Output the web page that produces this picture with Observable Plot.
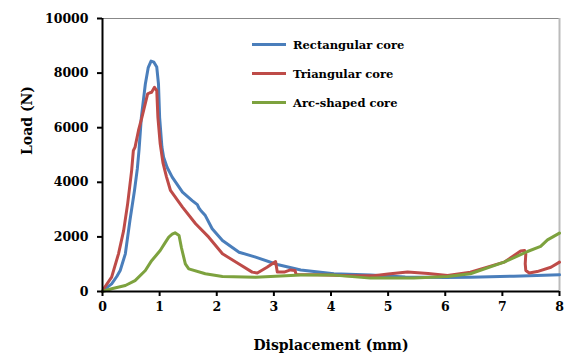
<!DOCTYPE html>
<html>
<head>
<meta charset="utf-8">
<script src="https://cdn.jsdelivr.net/npm/d3@7"></script>
<script src="https://cdn.jsdelivr.net/npm/@observablehq/plot@0.6"></script>
<style>
  html, body { margin: 0; padding: 0; background: #fff; }
  #wrap { position: relative; width: 568px; height: 356px; font-family: "DejaVu Serif", serif; font-weight: bold; }
  #legend { position: absolute; left: 252px; top: 30px; font-size: 11.5px; color: #000; }
  #legend .item { display: flex; align-items: center; height: 29px; }
  #legend .sw { width: 34px; height: 3px; margin-right: 7px; }
</style>
</head>
<body>
<div id="wrap"></div>
<script>
const seriesNames = ["Rectangular core", "Triangular core", "Arc-shaped core"];
const seriesColors = ["#4A7EBB", "#BE4B48", "#7DA23E"];

const rectX = [0, 0.08, 0.16, 0.25, 0.31, 0.40, 0.48, 0.56, 0.61, 0.64, 0.68, 0.75, 0.80, 0.85, 0.90, 0.95, 0.98, 1.00, 1.04, 1.07, 1.13, 1.22, 1.40, 1.57, 1.66, 1.69, 1.72, 1.80, 1.92, 2.10, 2.39, 2.68, 3.06, 3.47, 4.05, 4.69, 5.3, 6.0, 6.44, 7.2, 8.0];
const rectY = [0, 150, 280, 550, 770, 1380, 2600, 3700, 4500, 5200, 6380, 7600, 8200, 8440, 8400, 8220, 7600, 6380, 5290, 4920, 4550, 4190, 3640, 3330, 3180, 3050, 2970, 2780, 2300, 1870, 1440, 1260, 990, 790, 650, 600, 530, 510, 525, 560, 610];

const triX = [0, 0.02, 0.16, 0.28, 0.37, 0.44, 0.51, 0.54, 0.57, 0.63, 0.69, 0.79, 0.83, 0.86, 0.91, 0.95, 0.97, 1.01, 1.06, 1.12, 1.19, 1.40, 1.63, 1.86, 2.10, 2.39, 2.62, 2.71, 2.88, 3.03, 3.06, 3.18, 3.29, 3.37, 3.39, 3.76, 4.34, 4.75, 5.0, 5.34, 5.7, 6.04, 6.44, 7.03, 7.32, 7.39, 7.41, 7.40, 7.41, 7.47, 7.61, 7.85, 8.0];
const triY = [0, 100, 525, 1380, 2230, 3210, 4430, 5160, 5290, 5900, 6380, 7240, 7280, 7300, 7480, 7360, 6380, 5410, 4700, 4200, 3700, 3090, 2480, 1990, 1380, 1010, 710, 680, 890, 1100, 710, 710, 790, 770, 620, 610, 575, 580, 640, 710, 660, 590, 710, 1075, 1480, 1500, 1380, 1010, 770, 680, 730, 890, 1075];

const arcX = [0, 0.16, 0.40, 0.57, 0.75, 0.86, 0.93, 1.01, 1.10, 1.16, 1.22, 1.27, 1.34, 1.38, 1.45, 1.51, 1.80, 2.10, 2.68, 3.47, 4.05, 4.69, 5.45, 6.04, 6.44, 7.03, 7.44, 7.67, 7.79, 8.0];
const arcY = [0, 100, 220, 400, 770, 1130, 1300, 1500, 1800, 1990, 2100, 2150, 2050, 1620, 1010, 830, 650, 550, 525, 600, 600, 490, 490, 550, 650, 1075, 1465, 1650, 1890, 2140];

const xTicks = [0, 1, 2, 3, 4, 5, 6, 7, 8];
const yTicks = [0, 2000, 4000, 6000, 8000, 10000];
const xTitle = ["Displacement (mm)"];
const yTitle = ["Load (N)"];

const toRows = (xs, ys, name) => xs.map((x, i) => ({x, y: ys[i], series: name}));
const rows = [
  ...toRows(rectX, rectY, seriesNames[0]),
  ...toRows(triX, triY, seriesNames[1]),
  ...toRows(arcX, arcY, seriesNames[2])
];

const chart = Plot.plot({
  width: 568,
  height: 356,
  marginLeft: 102,
  marginRight: 9,
  marginTop: 18,
  marginBottom: 65,
  style: {fontFamily: "DejaVu Serif", fontWeight: "bold", fontSize: "12.5px", color: "#000", background: "#fff"},
  x: {domain: [0, 8]},
  y: {domain: [0, 10000]},
  color: {domain: seriesNames, range: seriesColors},
  marks: [
    Plot.ruleY([10000], {stroke: "#888", strokeWidth: 1}),
    Plot.ruleX([8], {stroke: "#bbb", strokeWidth: 2}),
    Plot.line(rows, {x: "x", y: "y", z: "series", stroke: "series", strokeWidth: 3, strokeLinejoin: "round", strokeLinecap: "round"}),
    Plot.axisX({ticks: xTicks, tickSize: 5, tickPadding: 6, tickFormat: d => String(d), label: null, stroke: "#000", strokeWidth: 2}),
    Plot.axisY({ticks: yTicks, tickSize: 5, tickPadding: 9, tickFormat: d => String(d), label: null, stroke: "#000", strokeWidth: 2}),
    Plot.ruleX([0], {stroke: "#000", strokeWidth: 2}),
    Plot.ruleY([0], {stroke: "#000", strokeWidth: 2}),
    Plot.text(xTitle, {text: d => d, frameAnchor: "bottom", dy: 58, fontSize: 14}),
    Plot.text(yTitle, {text: d => d, frameAnchor: "left", dx: -75, rotate: -90, fontSize: 14})
  ]
});

const wrap = document.getElementById("wrap");
wrap.appendChild(chart);

const legend = document.createElement("div");
legend.id = "legend";
seriesNames.forEach((name, i) => {
  const item = document.createElement("div");
  item.className = "item";
  const sw = document.createElement("div");
  sw.className = "sw";
  sw.style.background = seriesColors[i];
  const label = document.createElement("span");
  label.textContent = name;
  item.appendChild(sw);
  item.appendChild(label);
  legend.appendChild(item);
});
wrap.appendChild(legend);
</script>
</body>
</html>
